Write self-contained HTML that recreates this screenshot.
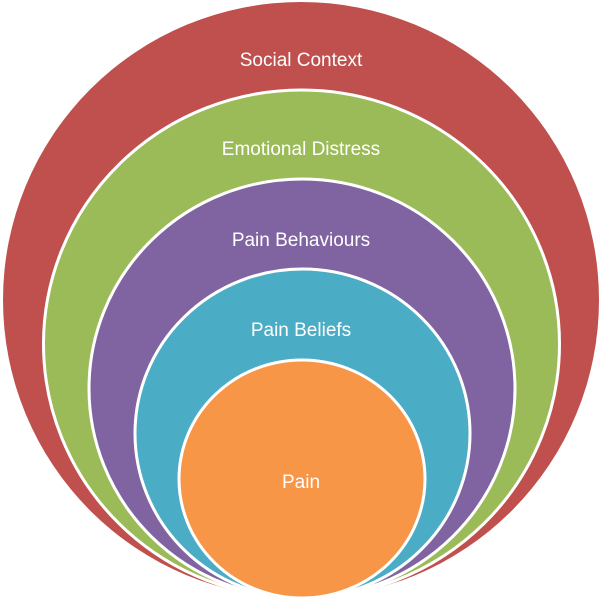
<!DOCTYPE html>
<html><head><style>
html,body{margin:0;padding:0;background:#fff;width:601px;height:601px;overflow:hidden}
svg{display:block}
text{font-family:"Liberation Sans",sans-serif;font-size:19px;fill:#fff;text-anchor:middle}
</style></head><body>
<svg width="601" height="601" viewBox="0 0 601 601">
<ellipse cx="301" cy="300" rx="298" ry="298" fill="#c0504d"/>
<ellipse cx="301.5" cy="344" rx="258" ry="254" fill="#9bbb59" stroke="#fff" stroke-width="3"/>
<ellipse cx="302" cy="388.5" rx="213" ry="209.5" fill="#8064a2" stroke="#fff" stroke-width="3"/>
<ellipse cx="302.5" cy="433.5" rx="167.5" ry="164.5" fill="#4bacc6" stroke="#fff" stroke-width="3"/>
<ellipse cx="302" cy="479" rx="123" ry="119" fill="#f79646" stroke="#fff" stroke-width="3"/>
<text x="301" y="66">Social Context</text>
<text x="301" y="155">Emotional Distress</text>
<text x="301" y="246">Pain Behaviours</text>
<text x="301" y="336">Pain Beliefs</text>
<text x="301" y="488">Pain</text>
</svg>
</body></html>
